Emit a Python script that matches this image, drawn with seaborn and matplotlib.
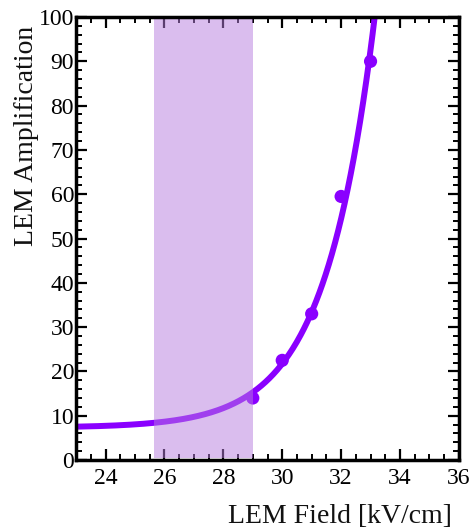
import numpy as np
import pandas as pd
import matplotlib
matplotlib.use("Agg")
import matplotlib.pyplot as plt
from matplotlib.ticker import MultipleLocator
import seaborn as sns

# Measured gain vs. LEM field
field_kv_cm = [29.0, 30.0, 31.0, 32.0, 33.0]
amplification = [14.0, 22.5, 33.0, 59.5, 90.0]

# Exponential fit: A = offset + scale * exp(slope * (E - ref))
fit_offset = 7.3
fit_scale = 0.229
fit_slope = 0.592
fit_ref = 23.0

# Operating region
band_lo, band_hi = 25.65, 29.0

line_color = "#8a00ff"
band_color = "#b67ddf"

sns.set_theme(style="ticks")
plt.rcParams["font.family"] = ["Liberation Serif", "DejaVu Serif"]
plt.rcParams["mathtext.fontset"] = "stix"

fig = plt.figure(figsize=(4.76, 5.32), dpi=100)
ax = fig.add_axes([0.160, 0.1353, 0.804, 0.8327])

e = np.linspace(23.0, 33.6, 400)
fit_df = pd.DataFrame({"E": e, "A": fit_offset + fit_scale * np.exp(fit_slope * (e - fit_ref))})
pts_df = pd.DataFrame({"E": field_kv_cm, "A": amplification})

sns.lineplot(data=fit_df, x="E", y="A", ax=ax, color=line_color, lw=4.3, zorder=3)
sns.scatterplot(data=pts_df, x="E", y="A", ax=ax, color=line_color, s=90,
                edgecolor="none", zorder=3)
ax.axvspan(band_lo, band_hi, ymin=0.004, ymax=0.996, color=band_color, alpha=0.5,
           lw=0, zorder=4)

ax.set_xlim(23, 36)
ax.set_ylim(0, 100)
ax.xaxis.set_major_locator(MultipleLocator(2))
ax.xaxis.set_minor_locator(MultipleLocator(0.5))
ax.yaxis.set_major_locator(MultipleLocator(10))
ax.yaxis.set_minor_locator(MultipleLocator(2))
ax.tick_params(which="both", direction="in", top=True, right=True, colors="black",
               labelsize=17, zorder=5)
ax.tick_params(which="major", length=8, width=1.6)
ax.tick_params(which="minor", length=4.5, width=1.4)
ax.tick_params(axis="x", pad=6)
ax.tick_params(axis="y", pad=1.5)
for s in ax.spines.values():
    s.set_linewidth(2.5)
    s.set_color("black")
    s.set_zorder(6)

ax.set_xlabel("LEM Field [kV/cm]", fontsize=20, color="#111111")
ax.set_ylabel("LEM Amplification", fontsize=20, color="#111111")
ax.xaxis.set_label_coords(0.69, -0.10)
ax.yaxis.set_label_coords(-0.097, 0.731)

fig.savefig("out.png", dpi=100)
